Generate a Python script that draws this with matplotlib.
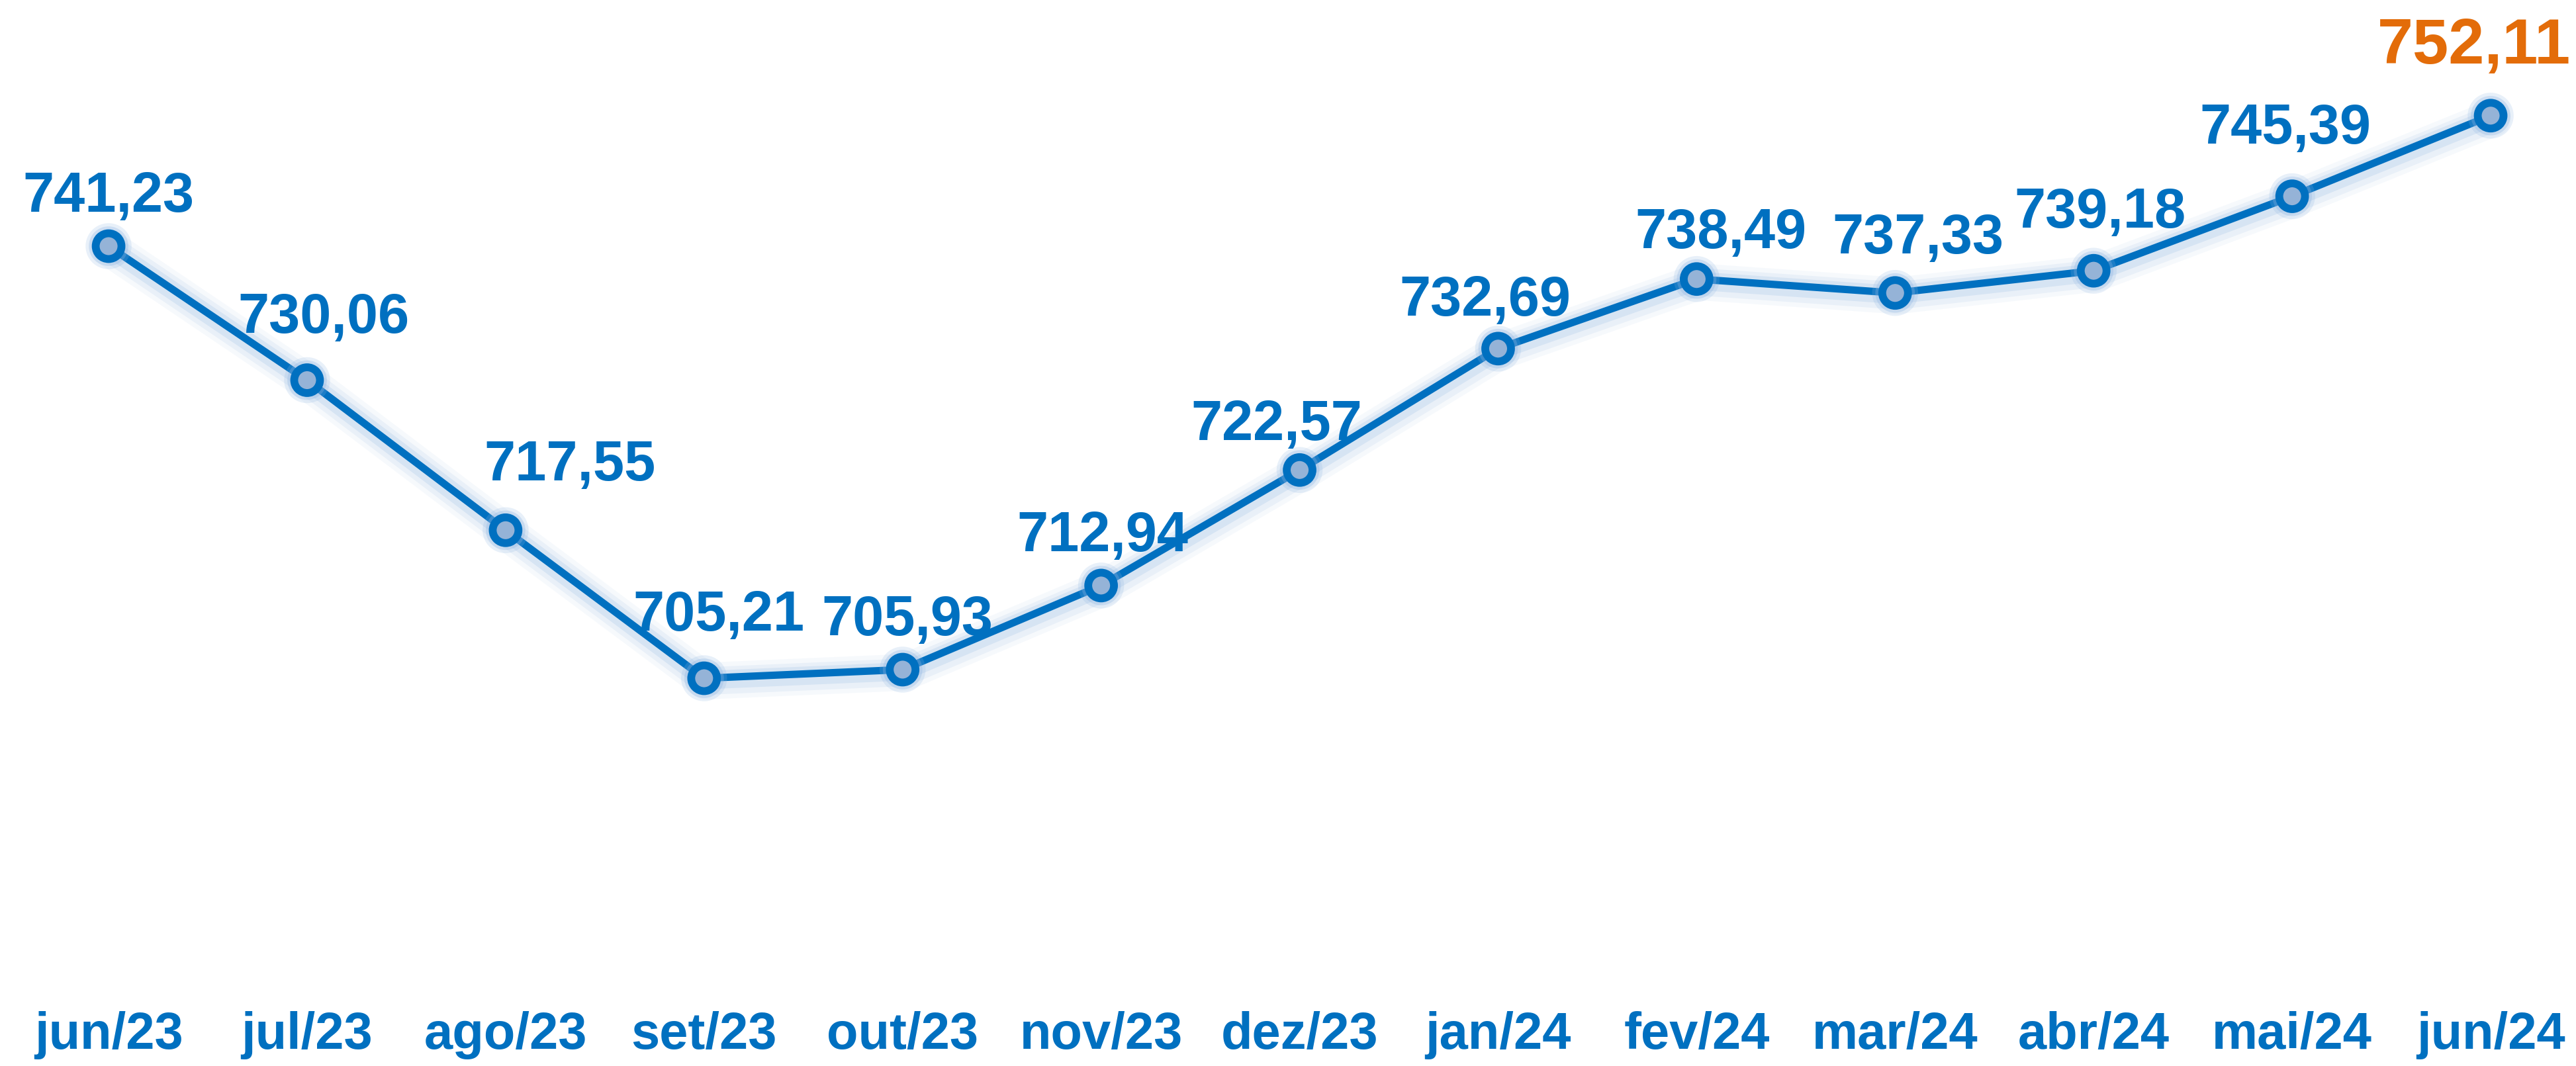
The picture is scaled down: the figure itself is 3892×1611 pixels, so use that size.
import matplotlib.pyplot as plt
import matplotlib.patheffects as pe
import numpy as np

meses = ['jun/23', 'jul/23', 'ago/23', 'set/23', 'out/23', 'nov/23', 'dez/23',
         'jan/24', 'fev/24', 'mar/24', 'abr/24', 'mai/24', 'jun/24']
valores = [741.23, 730.06, 717.55, 705.21, 705.93, 712.94, 722.57,
           732.69, 738.49, 737.33, 739.18, 745.39, 752.11]

# label offsets in pixels (dx, dy) from each point
desloc = [(0, 74), (25, 94), (97, 97), (22, 94), (7, 74), (2, 74), (-35, 67),
          (-20, 72), (37, 69), (35, 82), (10, 87), (-10, 102), (-25, 104)]

azul = '#0070C0'
laranja = '#E36C09'
glow = '#8DB4E2'

fig = plt.figure(figsize=(38.92, 16.11), dpi=100)
ax = fig.add_axes([0, 0.0689, 1, 0.9311])
x = np.arange(len(meses))

glow_fx = [pe.Stroke(linewidth=40, foreground=glow, alpha=0.07, offset=(2, -3)),
           pe.Stroke(linewidth=30, foreground=glow, alpha=0.12, offset=(2, -3)),
           pe.Stroke(linewidth=20, foreground=glow, alpha=0.2, offset=(1, -2)),
           pe.Normal()]

ax.plot(x, valores, color=azul, linewidth=8, zorder=2,
        path_effects=glow_fx, solid_capstyle='round')
ax.plot(x, valores, linestyle='none', marker='o', markersize=28,
        markerfacecolor='#95B3D7', markeredgecolor=azul, markeredgewidth=8.5,
        zorder=3, path_effects=[pe.Stroke(linewidth=22, foreground=glow, alpha=0.2),
                                pe.Stroke(linewidth=15, foreground=glow, alpha=0.3),
                                pe.Normal()])

for i, v in enumerate(valores):
    txt = f'{v:.2f}'.replace('.', ',')
    ultimo = i == len(valores) - 1
    ax.annotate(txt, (x[i], v), xytext=desloc[i], textcoords='offset pixels',
                ha='center', va='center', fontsize=70 if ultimo else 61,
                fontweight='bold', color=laranja if ultimo else azul,
                family=['Liberation Sans', 'DejaVu Sans'], zorder=4)

ax.set_xlim(-0.547, 12.43)
ax.set_ylim(679.01, 761.75)
ax.set_xticks(x)
ax.set_xticklabels(meses, fontsize=56, fontweight='bold', color=azul,
                   family=['Liberation Sans Narrow', 'Liberation Sans', 'DejaVu Sans'])
ax.tick_params(axis='x', length=0, pad=20)
ax.set_yticks([])
for s in ax.spines.values():
    s.set_visible(False)

fig.savefig('out.png', dpi=100)
